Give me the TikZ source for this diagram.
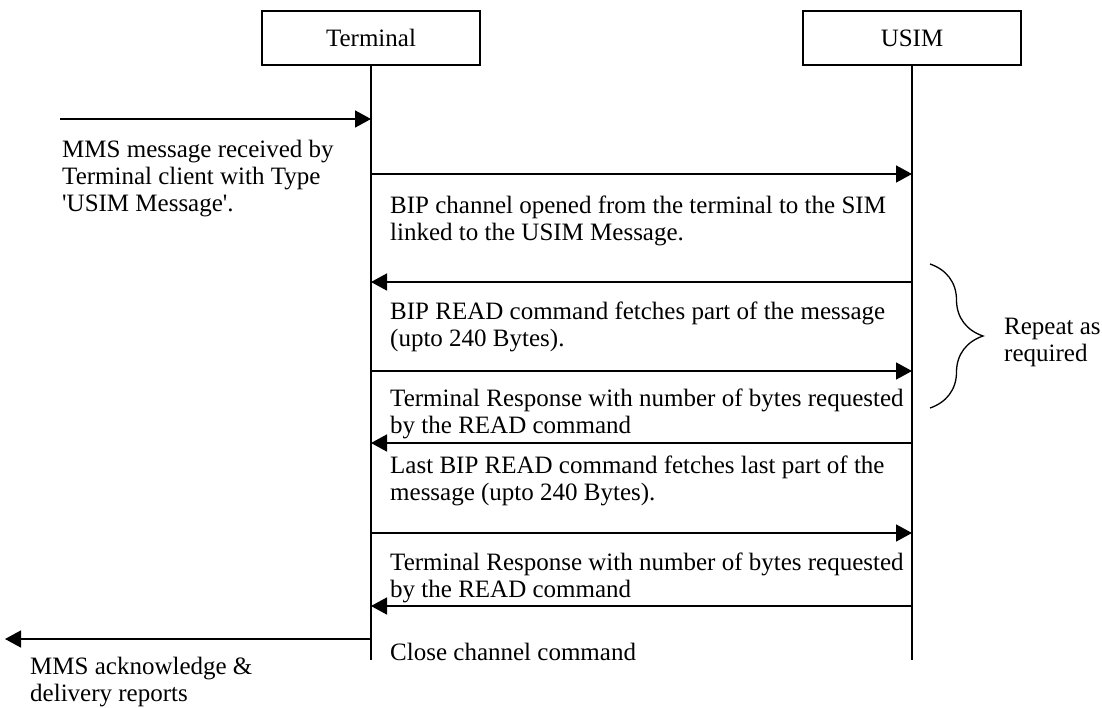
\documentclass[tikz,border=0pt]{standalone}
\usepackage{fontspec}
\setmainfont{Liberation Serif}[Ligatures=TeXOff]
\usetikzlibrary{arrows.meta,decorations.pathreplacing}

\begin{document}
\begin{tikzpicture}[x=1pt,y=-1pt,
  lane/.style={draw, line width=1.6pt, minimum width=218pt, minimum height=54pt, inner sep=0pt},
  life/.style={line width=1.6pt},
  msg/.style={line width=1.6pt, -{Triangle[length=16pt,width=17pt]}},
  note/.style={anchor=base west, align=left, inner sep=0pt}]
\useasboundingbox (0,0) rectangle (1102,707);
\fontsize{25}{27}\selectfont

% entities and lifelines
\node[lane] (term) at (371,38) {Terminal};
\node[lane] (usim) at (912,38) {USIM};
\draw[life] (term.south) -- (term.south |- 0,660) coordinate (termend);
\draw[life] (usim.south) -- (usim.south |- 0,660) coordinate (usimend);

% incoming MMS (base = last line)
\coordinate (mmsin) at (60,119);
\draw[msg] (mmsin) -- (mmsin -| term);
\node[note] (mmsnote) at (62,211) {MMS message received by\\Terminal client with Type\\'USIM Message'.};

% open channel
\draw[msg] (term |- 0,174) -- (usim |- 0,174);
\node[note] (open) at (390,240) {BIP channel opened from the terminal to the SIM\\linked to the USIM Message.};

% repeated read
\draw[msg] (usim |- 0,282) -- (term |- 0,282);
\node[note] (read) at (390,346) {BIP READ command fetches part of the message\\(upto 240 Bytes).};
\draw[msg] (term |- 0,371) -- (usim |- 0,371);
\node[note] (resp) at (390,433) {Terminal Response with number of bytes requested\\by the READ command};
\draw[msg] (usim |- 0,443) -- (term |- 0,443);

% last read
\node[note] (lastread) at (390,500) {Last BIP READ command fetches last part of the\\message (upto 240 Bytes).};
\draw[msg] (term |- 0,533) -- (usim |- 0,533);
\node[note] (lastresp) at (390,597) {Terminal Response with number of bytes requested\\by the READ command};
\draw[msg] (usim |- 0,606) -- (term |- 0,606);

% close and report
\node[note] (close) at (390,660) {Close channel command};
\coordinate (mmsout) at (5,639);
\draw[msg] (mmsout -| term) -- (mmsout);
\node[note] (ack) at (30,701) {MMS acknowledge \&\\delivery reports};

% repeat brace
\draw[line width=1.3pt, decorate, decoration={brace, amplitude=53pt}] (930,264) -- (930,408);
\node[note] (repeat) at (1004,361) {Repeat as\\required};
\end{tikzpicture}
\end{document}
